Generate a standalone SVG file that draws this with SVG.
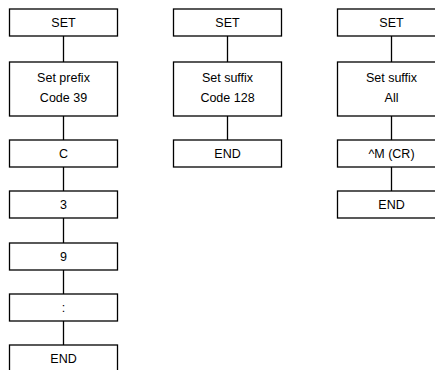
<svg xmlns="http://www.w3.org/2000/svg" width="435" height="370" viewBox="0 0 435 370">
<style>
.box{fill:#fff;stroke:#000;stroke-width:1.3}
.ln{stroke:#000;stroke-width:1.3;fill:none}
text{font-family:"Liberation Sans",Arial,sans-serif;font-size:12.5px;fill:#000;text-anchor:middle}
</style>
<rect width="435" height="370" fill="#fff"/>
<g id="connectors">
<path class="ln" d="M63.5 36V62M63.5 116V140M63.5 167V191M63.5 218V243M63.5 270V294M63.5 321V345"/>
<path class="ln" d="M227.5 36V62M227.5 116V140"/>
<path class="ln" d="M391.5 36V62M391.5 116V140M391.5 167V191"/>
</g>
<g id="c1-set"><rect class="box" x="9.5" y="9" width="108" height="27"/><text x="63.5" y="27">SET</text></g>
<g id="c1-prefix"><rect class="box" x="9.5" y="62" width="108" height="54"/><text x="63.5" y="81.5">Set prefix</text><text x="63.5" y="101.5">Code 39</text></g>
<g id="c1-c"><rect class="box" x="9.5" y="140" width="108" height="27"/><text x="63.5" y="158">C</text></g>
<g id="c1-3"><rect class="box" x="9.5" y="191" width="108" height="27"/><text x="63.5" y="209">3</text></g>
<g id="c1-9"><rect class="box" x="9.5" y="243" width="108" height="27"/><text x="63.5" y="261">9</text></g>
<g id="c1-colon"><rect class="box" x="9.5" y="294" width="108" height="27"/><text x="63.5" y="312">:</text></g>
<g id="c1-end"><rect class="box" x="9.5" y="345" width="108" height="27"/><text x="63.5" y="363">END</text></g>
<g id="c2-set"><rect class="box" x="173.5" y="9" width="108" height="27"/><text x="227.5" y="27">SET</text></g>
<g id="c2-suffix"><rect class="box" x="173.5" y="62" width="108" height="54"/><text x="227.5" y="81.5">Set suffix</text><text x="227.5" y="101.5">Code 128</text></g>
<g id="c2-end"><rect class="box" x="173.5" y="140" width="108" height="27"/><text x="227.5" y="158">END</text></g>
<g id="c3-set"><rect class="box" x="337.5" y="9" width="108" height="27"/><text x="391.5" y="27">SET</text></g>
<g id="c3-suffix"><rect class="box" x="337.5" y="62" width="108" height="54"/><text x="391.5" y="81.5">Set suffix</text><text x="391.5" y="101.5">All</text></g>
<g id="c3-cr"><rect class="box" x="337.5" y="140" width="108" height="27"/><text x="391.5" y="158">^M (CR)</text></g>
<g id="c3-end"><rect class="box" x="337.5" y="191" width="108" height="27"/><text x="391.5" y="209">END</text></g>
</svg>
